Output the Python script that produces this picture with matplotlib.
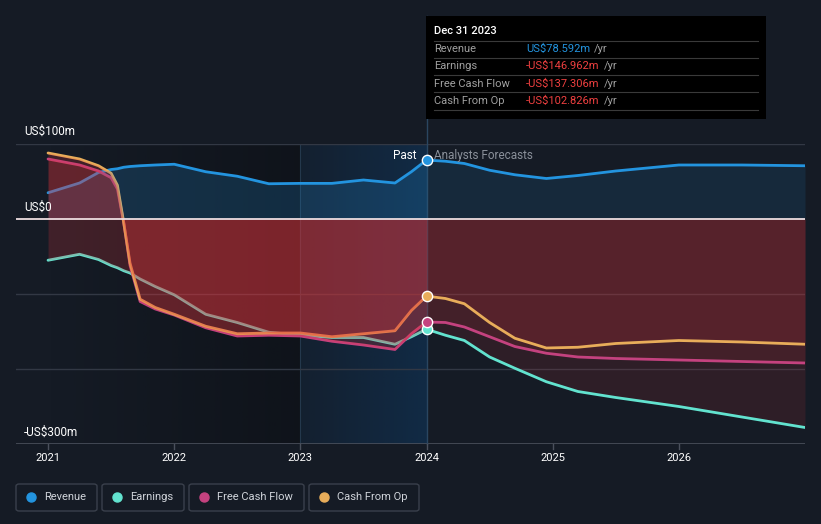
import numpy as np
import matplotlib.pyplot as plt
from matplotlib.patches import FancyBboxPatch, Rectangle

plt.rcParams['font.family'] = ['Roboto', 'DejaVu Sans']

# past (trailing) values, US$m
past_x = [2021.0, 2021.25, 2021.4, 2021.5, 2021.55, 2021.6, 2021.65, 2021.73, 2021.85,
          2022.0, 2022.25, 2022.5, 2022.75, 2023.0, 2023.25, 2023.5, 2023.75, 2023.88, 2024.0]
revenue_past = [35, 48, 62, 66, 67, 69, 70, 71, 72, 73, 63, 57, 47, 47.5, 47.5, 52, 48, 63, 78.592]
earnings_past = [-55, -47, -54, -62, -65, -69, -72, -80, -90, -101, -127, -138, -151, -155, -158,
                 -158, -167, -157, -146.962]
fcf_past = [80, 72, 64, 55, 40, -5, -62, -110, -120, -128, -145, -156, -155, -156, -163, -168,
            -174, -153, -137.306]
cfo_past = [88, 80, 71, 61, 45, -5, -59, -107, -118, -127, -143, -153, -152, -152, -157, -153,
            -149, -122, -102.826]

# analyst forecasts, US$m
fc_x = [2024.0, 2024.15, 2024.3, 2024.5, 2024.7, 2024.95, 2025.2, 2025.5, 2026.0, 2026.5, 2027.0]
revenue_fc = [78.592, 77, 74, 65, 59, 54, 58, 64, 72, 72, 71]
earnings_fc = [-146.962, -155, -162, -184, -199, -217, -230, -238, -250, -264, -278]
fcf_fc = [-137.306, -138, -144, -157, -170, -179, -184, -186, -188, -190, -192]
cfo_fc = [-102.826, -106, -113, -138, -159, -172, -171, -166, -162, -164, -167]

names = ["Revenue", "Earnings", "Free Cash Flow", "Cash From Op"]
colors = ["#2394df", "#62e3cf", "#c4427f", "#e8ad5a"]
tip_values = ["US$78.592m", "-US$146.962m", "-US$137.306m", "-US$102.826m"]
year_ticks = [2021, 2022, 2023, 2024, 2025, 2026]
y_labels = {100: "US$100m", 0: "US$0", -300: "-US$300m"}

bg = "#151b25"
W, H = 821, 524


def fx(px):
    return px / W


def fy(py):
    return 1 - py / H


fig = plt.figure(figsize=(8.21, 5.24), dpi=100, facecolor=bg)
ax = fig.add_axes([fx(16), fy(444), fx(805) - fx(16), fy(144) - fy(444)])
ax.set_facecolor(bg)
ax.set_xlim(2020.746, 2027.0)
ax.set_ylim(-300, 100)
for s in ax.spines.values():
    s.set_visible(False)
ax.set_xticks([])
ax.set_yticks([])

# darker past background and highlighted last year
n = 100
dark = np.zeros((1, n, 4))
dark[..., :3] = np.array([8, 10, 14]) / 255
dark[..., 3] = np.linspace(0.0, 0.45, n)
ax.imshow(dark, extent=[2021, 2023, -300, 100], aspect="auto", zorder=0.1)
band = np.zeros((1, n, 4))
band[..., :3] = np.array([16, 48, 80]) / 255
band[..., 3] = np.linspace(0.25, 0.75, n)
ax.imshow(band, extent=[2023, 2024, -300, 100], aspect="auto", zorder=0.2)
ax.axvline(2023, color="#24384c", lw=0.8, zorder=0.3)

# grid
for yv in [100, -100, -200]:
    ax.axhline(yv, color="#323844", lw=1, zorder=0.5)
ax.axhline(-300, color="#4a505c", lw=1.2, zorder=0.5)
ax.axvline(2024, ymin=0, ymax=(444 - 16) / 300, color="#2a4660", lw=1, zorder=0.6, clip_on=False)

series_past = [revenue_past, earnings_past, fcf_past, cfo_past]
series_fc = [revenue_fc, earnings_fc, fcf_fc, cfo_fc]

for i, (yp, yf) in enumerate(zip(series_past, series_fc)):
    xs = past_x + fc_x[1:]
    ys = yp + yf[1:]
    ax.plot(xs, ys, color=colors[i], lw=2.0, zorder=2, solid_capstyle="round",
            solid_joinstyle="round")
    if i == 0:
        ax.fill_between(past_x, yp, 0, color=colors[0], alpha=0.2, lw=0, zorder=3)
        ax.fill_between(fc_x, yf, 0, color=colors[0], alpha=0.12, lw=0, zorder=1)
    else:
        ax.fill_between(past_x, yp, 0, color="#e0363c", alpha=0.22, lw=0, zorder=3)
        ax.fill_between(fc_x, yf, 0, color="#d8343a", alpha=0.13, lw=0, zorder=1)
    ax.scatter([2024], [yp[-1]], s=55, color=colors[i], edgecolor="white", lw=1, zorder=6)

ax.axhline(0, color="#eddde0", lw=1.3, zorder=4)

# y labels and year ticks
for yv, lab in y_labels.items():
    py = {100: 131, 0: 207, -300: 432}[yv]
    fig.text(fx(24), fy(py), lab, color="white", fontsize=8.5, va="center", ha="left")
for yr in year_ticks:
    px = 48 + (yr - 2021) * 126.2
    fig.lines.append(plt.Line2D([fx(px), fx(px)], [fy(444), fy(449)], color="#4a505c", lw=1,
                                transform=fig.transFigure))
    fig.text(fx(px), fy(458), str(yr), color="white", fontsize=8, ha="center", va="center")

fig.text(fx(416), fy(156), "Past", color="white", fontsize=8.5, ha="right", va="center")
fig.text(fx(434), fy(156), "Analysts Forecasts", color="#8a909a", fontsize=8.5, ha="left", va="center")

# tooltip
fig.patches.append(Rectangle((fx(426), fy(119)), fx(766) - fx(426), fy(16) - fy(119),
                             transform=fig.transFigure, facecolor="black", edgecolor="none", zorder=5))
fig.text(fx(434), fy(31), "Dec 31 2023", color="white", fontsize=8, fontweight="medium",
         ha="left", va="center", zorder=6)
for k, py in enumerate([40.5, 58, 75, 92, 109.5]):
    fig.lines.append(plt.Line2D([fx(434), fx(758)], [fy(py), fy(py)], color="#3a3a3a", lw=0.8,
                                transform=fig.transFigure, zorder=6))
fig.canvas.draw()
renderer = fig.canvas.get_renderer()
for k, py in enumerate([49, 66, 84, 101]):
    fig.text(fx(434), fy(py), names[k], color="#a0a0a0", fontsize=8, ha="left", va="center", zorder=6)
    vc = colors[0] if k == 0 else "#f04040"
    t = fig.text(fx(526), fy(py), tip_values[k], color=vc, fontsize=8, ha="left", va="center", zorder=6)
    bb = t.get_window_extent(renderer)
    fig.text(bb.x1 / W + fx(4), fy(py), "/yr", color="#a0a0a0", fontsize=8, ha="left", va="center", zorder=6)

# legend
boxes = [(16, 97), (102, 184), (189, 304), (309, 419)]
for k, (x0, x1) in enumerate(boxes):
    fig.patches.append(FancyBboxPatch((fx(x0), fy(511)), fx(x1) - fx(x0), fy(484) - fy(511),
                                      boxstyle="round,pad=0,rounding_size=0.004",
                                      transform=fig.transFigure, facecolor="none",
                                      edgecolor="#3a404c", lw=1))
    fig.lines.append(plt.Line2D([fx(x0 + 15)], [fy(497)], marker="o", ms=6.5, color=colors[k],
                                transform=fig.transFigure, lw=0))
    fig.text(fx(x0 + 28), fy(497), names[k], color="#d0d4da", fontsize=8, ha="left", va="center")

fig.savefig("out.png", dpi=100, facecolor=bg)
